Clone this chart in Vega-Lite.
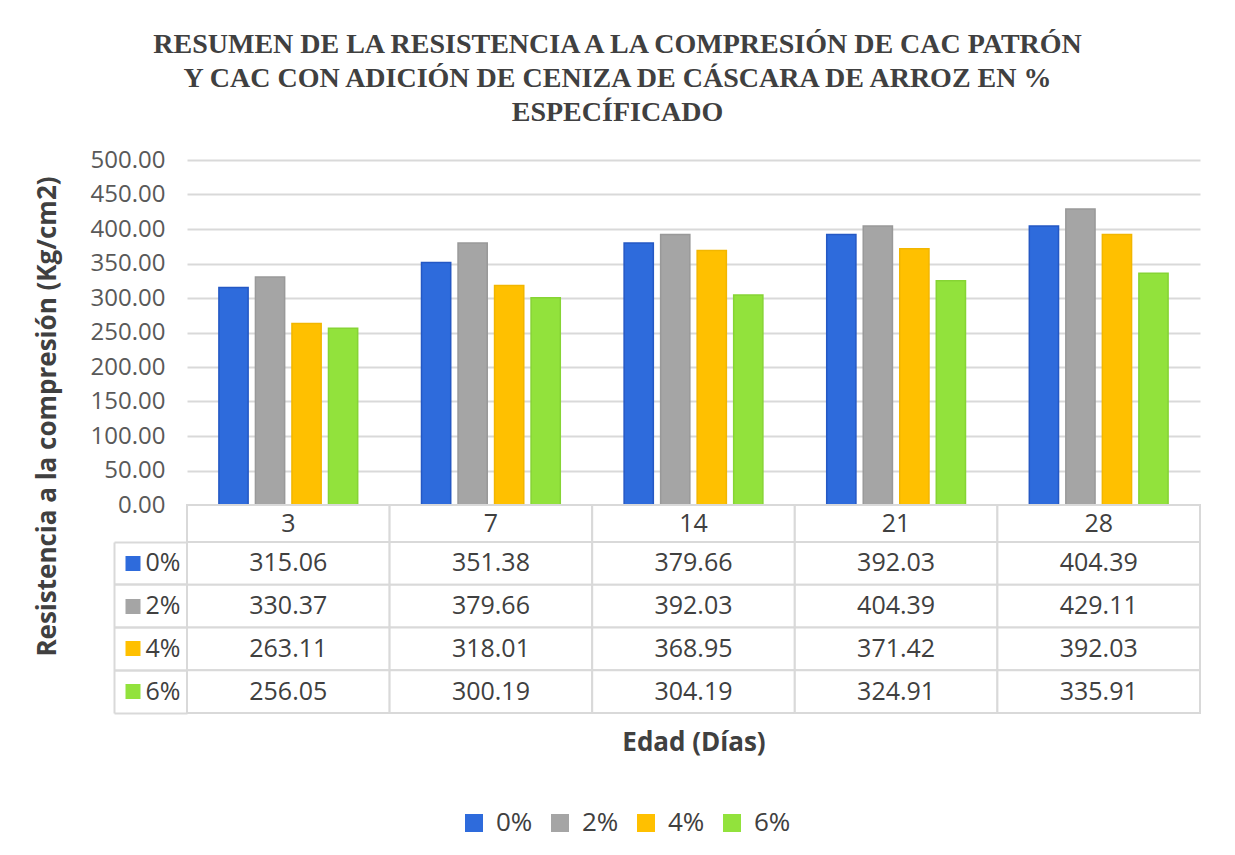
{
  "$schema": "https://vega.github.io/schema/vega-lite/v6.json",
  "background": "white",
  "padding": {"left": 34, "top": 31, "right": 31, "bottom": 10},
  "title": {
    "text": ["RESUMEN DE LA RESISTENCIA A LA COMPRESIÓN DE CAC PATRÓN", "Y CAC CON ADICIÓN DE CENIZA DE CÁSCARA DE ARROZ EN %", "ESPECÍFICADO"],
    "font": "Liberation Serif", "fontSize": 28, "fontWeight": "bold", "color": "#404040",
    "anchor": "middle", "frame": "bounds", "offset": 21, "lineHeight": 34
  },
  "datasets": {
    "d": [
      {"dia": 3, "serie": "0%", "valor": 315.06},
      {"dia": 7, "serie": "0%", "valor": 351.38},
      {"dia": 14, "serie": "0%", "valor": 379.66},
      {"dia": 21, "serie": "0%", "valor": 392.03},
      {"dia": 28, "serie": "0%", "valor": 404.39},
      {"dia": 3, "serie": "2%", "valor": 330.37},
      {"dia": 7, "serie": "2%", "valor": 379.66},
      {"dia": 14, "serie": "2%", "valor": 392.03},
      {"dia": 21, "serie": "2%", "valor": 404.39},
      {"dia": 28, "serie": "2%", "valor": 429.11},
      {"dia": 3, "serie": "4%", "valor": 263.11},
      {"dia": 7, "serie": "4%", "valor": 318.01},
      {"dia": 14, "serie": "4%", "valor": 368.95},
      {"dia": 21, "serie": "4%", "valor": 371.42},
      {"dia": 28, "serie": "4%", "valor": 392.03},
      {"dia": 3, "serie": "6%", "valor": 256.05},
      {"dia": 7, "serie": "6%", "valor": 300.19},
      {"dia": 14, "serie": "6%", "valor": 304.19},
      {"dia": 21, "serie": "6%", "valor": 324.91},
      {"dia": 28, "serie": "6%", "valor": 335.91}
    ]
  },
  "spacing": 0,
  "bounds": "flush",
  "vconcat": [
    {
      "width": 1013, "height": 345,
      "data": {"name": "d"},
      "mark": {"type": "bar", "strokeWidth": 1.5},
      "encoding": {
        "x": {"field": "dia", "type": "ordinal", "scale": {"paddingInner": 0.315, "paddingOuter": 0.1575}, "axis": null},
        "xOffset": {"field": "serie", "type": "nominal", "scale": {"paddingInner": 0.2, "paddingOuter": 0}},
        "y": {
          "field": "valor", "type": "quantitative", "scale": {"domain": [0, 500]},
          "axis": {
            "values": [0, 50, 100, 150, 200, 250, 300, 350, 400, 450, 500],
            "format": ".2f",
            "title": "Resistencia a la compresión (Kg/cm2)",
            "titleFont": "Open Sans", "titleFontSize": 26, "titleFontWeight": "bold", "titleColor": "#404040",
            "titlePadding": 30, "titleY": 256,
            "labelFont": "Open Sans", "labelFontSize": 24, "labelColor": "#595959", "labelPadding": 22,
            "ticks": false, "domain": false,
            "grid": true, "gridColor": "#d9d9d9", "gridWidth": 2
          }
        },
        "color": {
          "field": "serie", "type": "nominal",
          "scale": {"domain": ["0%", "2%", "4%", "6%"], "range": ["#2E6BDC", "#A5A5A5", "#FFC000", "#92E23C"]},
          "legend": {
            "title": null, "orient": "none", "direction": "horizontal",
            "legendX": 274, "legendY": 650,
            "symbolType": "square", "symbolSize": 324, "symbolStrokeWidth": 0,
            "labelFont": "Open Sans", "labelFontSize": 26, "labelColor": "#404040",
            "labelOffset": 9, "columnPadding": 14
          }
        },
        "stroke": {
          "field": "serie", "type": "nominal",
          "scale": {"domain": ["0%", "2%", "4%", "6%"], "range": ["#2458C4", "#999999", "#F2B600", "#86D434"]},
          "legend": null
        }
      }
    },
    {
      "width": 1013, "height": 37,
      "data": {"name": "d"},
      "transform": [{"filter": "datum.serie == '0%'"}],
      "encoding": {
        "x": {"field": "dia", "type": "ordinal", "scale": {"paddingInner": 0, "paddingOuter": 0}, "axis": null}
      },
      "layer": [
        {"mark": {"type": "rect", "fill": "white", "stroke": "#d9d9d9", "strokeWidth": 2}},
        {"mark": {"type": "text", "font": "Open Sans", "fontSize": 25, "color": "#404040"}, "encoding": {"text": {"field": "dia", "type": "ordinal"}}}
      ]
    },
    {
      "width": 1013, "height": 171,
      "data": {"name": "d"},
      "encoding": {
        "x": {
          "field": "dia", "type": "ordinal", "scale": {"paddingInner": 0, "paddingOuter": 0},
          "axis": {"title": "Edad (Días)", "labels": false, "ticks": false, "domain": false,
            "titleFont": "Open Sans", "titleFontSize": 26, "titleFontWeight": "bold", "titleColor": "#404040", "titlePadding": 16}
        }
      },
      "layer": [
        {
          "mark": {"type": "rect", "fill": "white", "stroke": "#d9d9d9", "strokeWidth": 2},
          "encoding": {
            "y": {
              "field": "serie", "type": "nominal", "sort": ["0%", "2%", "4%", "6%"], "scale": {"paddingInner": 0, "paddingOuter": 0},
              "axis": {
                "orient": "left",
                "title": null, "domain": false, "grid": false, "offset": 47, "bandPosition": 0.5,
                "ticks": true, "tickSize": 15, "tickWidth": 15, "tickCap": "butt",
                "tickColor": {"condition": [
                  {"test": "datum.value === '0%'", "value": "#2E6BDC"},
                  {"test": "datum.value === '2%'", "value": "#A5A5A5"},
                  {"test": "datum.value === '4%'", "value": "#FFC000"}
                ], "value": "#92E23C"},
                "labelPadding": -55, "labelAlign": "right", "labelFont": "Open Sans", "labelFontSize": 25, "labelColor": "#404040"
              }
            }
          }
        },
        {
          "mark": {"type": "text", "font": "Open Sans", "fontSize": 25, "color": "#404040"},
          "encoding": {
            "y": {
              "field": "serie", "type": "nominal", "sort": ["0%", "2%", "4%", "6%"],
              "axis": {"orient": "left", "title": null, "domain": false, "grid": false, "labels": false, "ticks": true, "tickSize": 73, "tickWidth": 2, "tickColor": "#d9d9d9", "bandPosition": 0}
            },
            "text": {"field": "valor", "type": "quantitative", "format": ".2f"}
          }
        },
        {
          "mark": {"type": "rect", "opacity": 0},
          "encoding": {
            "y": {
              "field": "serie", "type": "nominal", "sort": ["0%", "2%", "4%", "6%"],
              "axis": {"orient": "left", "title": null, "domain": true, "domainColor": "#d9d9d9", "domainWidth": 2, "offset": 73, "grid": false, "labels": false,
                "ticks": true, "tickSize": -73, "tickWidth": 2, "tickColor": "#d9d9d9", "bandPosition": 1}
            }
          }
        }
      ],
      "resolve": {"axis": {"y": "independent"}}
    }
  ],
  "config": {
    "view": {"stroke": null},
    "text": {"font": "Open Sans"}
  }
}
